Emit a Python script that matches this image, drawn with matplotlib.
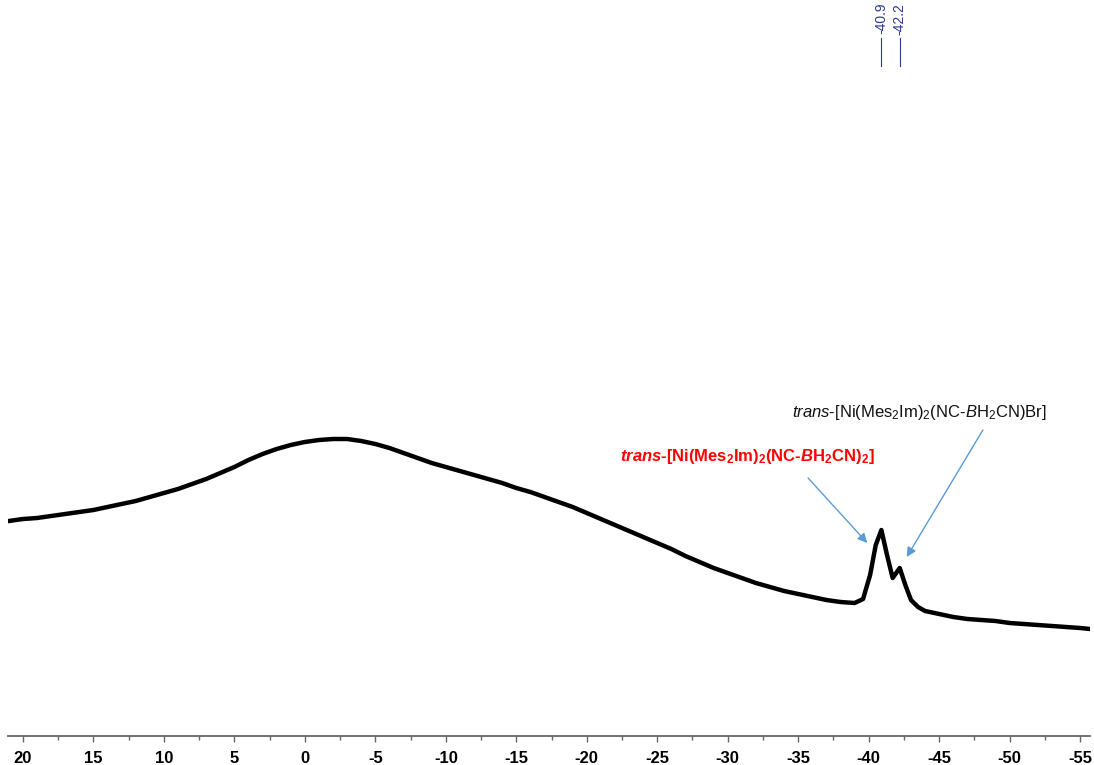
import numpy as np
import matplotlib.pyplot as plt

plt.rcParams['font.family'] = ['Liberation Sans', 'DejaVu Sans']
plt.rcParams['axes.unicode_minus'] = False
plt.rcParams['mathtext.fontset'] = 'custom'
plt.rcParams['mathtext.rm'] = 'Liberation Sans'
plt.rcParams['mathtext.it'] = 'Liberation Sans:italic'
plt.rcParams['mathtext.bf'] = 'Liberation Sans:bold'
plt.rcParams['mathtext.bfit'] = 'Liberation Sans:italic:bold'

# spectrum (ppm, intensity in arbitrary units)
ppm = [21.0, 20, 19, 18, 17, 16, 15, 14, 13, 12, 11, 10, 9, 8, 7, 6, 5, 4, 3, 2, 1, 0,
       -1, -2, -3, -4, -5, -6, -7, -8, -9, -10, -11, -12, -13, -14, -15, -16, -17, -18,
       -19, -20, -21, -22, -23, -24, -25, -26, -27, -28, -29, -30, -31, -32, -33, -34,
       -35, -36, -37, -38, -39, -39.6, -40.1, -40.5, -40.9, -41.3, -41.7, -42.2, -42.6,
       -43, -43.5, -44, -45, -46, -47, -48, -49, -50, -51, -52, -53, -54, -55, -55.7]
inten = [224, 226, 227, 229, 231, 233, 235, 238, 241, 244, 248, 252, 256, 261, 266, 272,
         278, 285, 291, 296, 300, 303, 305, 306, 306, 304, 301, 297, 292, 287, 282, 278,
         274, 270, 266, 262, 257, 253, 248, 243, 238, 232, 226, 220, 214, 208, 202, 196,
         189, 183, 177, 172, 167, 162, 158, 154, 151, 148, 145, 143, 142, 146, 170, 200,
         215, 190, 167, 177, 160, 145, 138, 134, 131, 128, 126, 125, 124, 122, 121, 120,
         119, 118, 117, 116]

peaks = [-40.9, -42.2]
peak_labels = ['-40.9', '-42.2']

red_label = (r'$\mathbfit{trans}$-[Ni(Mes$_\mathbf{2}$Im)$_\mathbf{2}$'
             r'(NC-$\mathbfit{B}$H$_\mathbf{2}$CN)$_\mathbf{2}$]')
black_label = r'$\it{trans}$-[Ni(Mes$_2$Im)$_2$(NC-$\it{B}$H$_2$CN)Br]'

fig = plt.figure(figsize=(10.94, 7.65), dpi=100)
ax = fig.add_axes([8 / 1094, 29 / 765, 1082 / 1094, 736 / 765])

ax.plot(ppm, inten, color='black', lw=3.2, solid_joinstyle='round')

ax.set_xlim(21.06, -55.7)
ax.set_ylim(9, 745)

for s in ['top', 'left', 'right']:
    ax.spines[s].set_visible(False)
ax.spines['bottom'].set_color('#666666')
ax.spines['bottom'].set_linewidth(1.3)
ax.set_yticks([])
ax.set_xticks(np.arange(20, -56, -5))
ax.set_xticks(np.arange(17.5, -56, -5), minor=True)
ax.tick_params(axis='x', which='major', length=4, width=1, color='#666666',
               labelsize=12, pad=7)
ax.tick_params(axis='x', which='minor', length=3, width=1, color='#666666')
for lab in ax.get_xticklabels():
    lab.set_fontweight('bold')

# peak picking labels at the top
for p, t in zip(peaks, peak_labels):
    ax.plot([p, p], [745 - 66, 745 - 38], color='#2b3990', lw=0.8)
    ax.text(p, 745 - 3, t, rotation=90, ha='center', va='top', fontsize=10,
            color='#2b3990')

arrow = dict(arrowstyle='-|>', color='#5b9bd5', lw=1, shrinkA=0, shrinkB=0,
             mutation_scale=14)
ax.text(-31.4, 288, red_label, color='#ff0000', fontsize=12, fontweight='bold',
        ha='center', va='center')
ax.annotate('', xy=(-39.9, 202), xytext=(-35.7, 267), arrowprops=arrow)
ax.text(-43.6, 332, black_label, color='#111111', fontsize=12,
        ha='center', va='center')
ax.annotate('', xy=(-42.7, 188), xytext=(-48.1, 315), arrowprops=arrow)

plt.savefig('out.png', dpi=100)
